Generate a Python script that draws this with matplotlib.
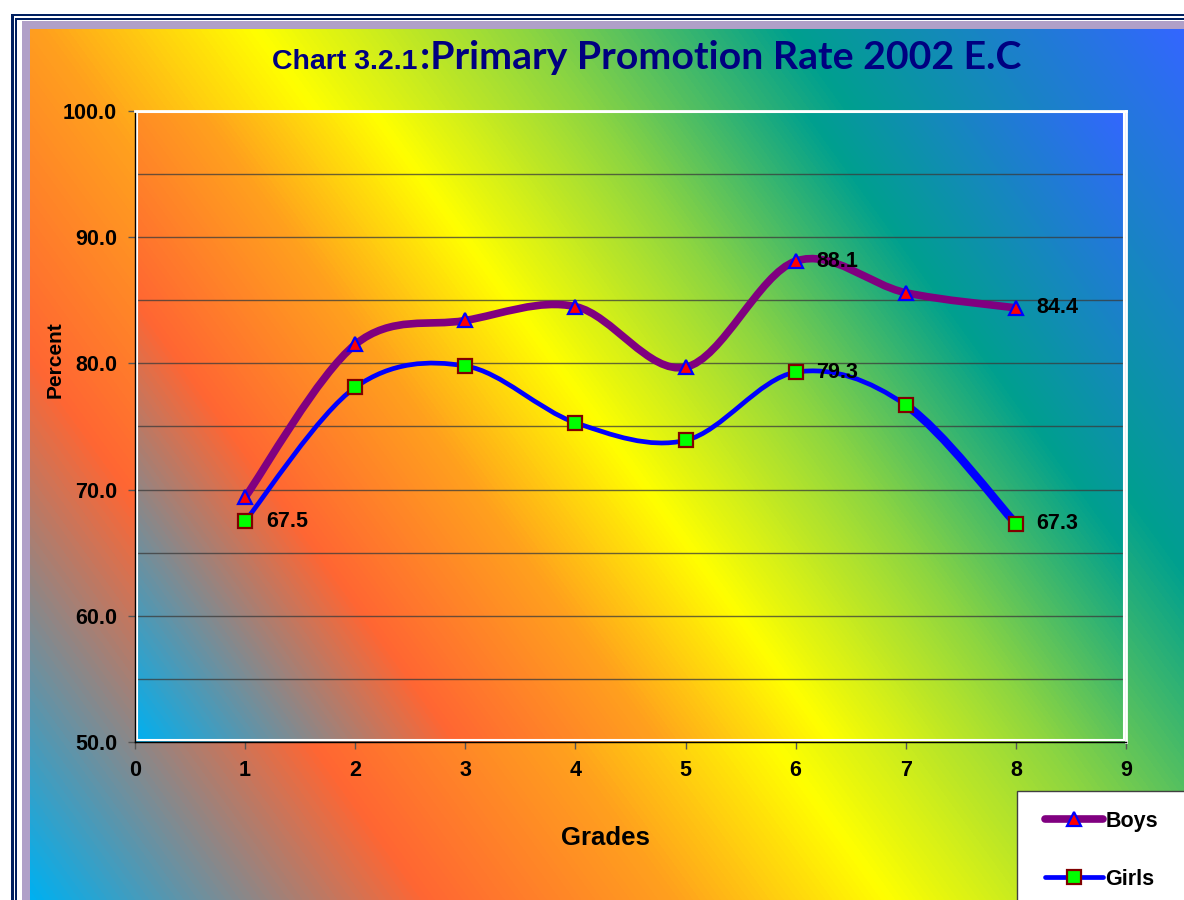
import numpy as np
import matplotlib
matplotlib.use("Agg")
import matplotlib.pyplot as plt
from matplotlib.path import Path
from matplotlib.patches import PathPatch, Rectangle
from matplotlib.colors import LinearSegmentedColormap
from matplotlib.lines import Line2D

# data
grades = [1, 2, 3, 4, 5, 6, 7, 8]
boys = [69.4, 81.5, 83.4, 84.5, 79.7, 88.1, 85.6, 84.4]
girls = [67.5, 78.1, 79.8, 75.3, 73.9, 79.3, 76.7, 67.3]
boys_labelled = [6, 8]        # grades with a data label
girls_labelled = [1, 6, 8]
yticks = [50, 60, 70, 80, 90, 100]
xticks = list(range(10))

W, H = 1184, 900
NAVY = "#000080"
FONT = ["Liberation Sans", "DejaVu Sans"]
plt.rcParams["font.family"] = FONT
FS = 15.5

stops = [(0.0, "#00b0f0"), (0.22, "#ff6633"), (0.36, "#ffa01e"), (0.48, "#ffff00"),
         (0.63, "#8fd640"), (0.78, "#00a08e"), (1.0, "#3366ff")]
cmap = LinearSegmentedColormap.from_list("rainbowfill", stops)


def grad(w, h, ang=36):
    a = np.radians(ang)
    x = np.arange(w)[None, :]
    y = np.arange(h)[:, None]
    t = x * np.cos(a) + (h - 1 - y) * np.sin(a)
    return t / t.max()


def fx(px):
    return px / W


def fy(py):
    return 1 - py / H


def smooth_path(xs, ys, i0=0, i1=None):
    """Catmull-Rom style bezier through the points (Excel 'smoothed line')."""
    p = np.column_stack([xs, ys]).astype(float)
    n = len(p)
    i1 = n - 1 if i1 is None else i1
    verts, codes = [p[i0]], [Path.MOVETO]
    for i in range(i0, i1):
        pm = p[max(i - 1, 0)]
        pn = p[min(i + 2, n - 1)]
        c1 = p[i] + (p[i + 1] - pm) / 6
        c2 = p[i + 1] - (pn - p[i]) / 6
        verts += [c1, c2, p[i + 1]]
        codes += [Path.CURVE4] * 3
    return Path(verts, codes)


fig = plt.figure(figsize=(W / 100, H / 100), dpi=100)
fig.patch.set_facecolor("white")

# frame: navy double line, lavender band
for x0, y0, col in [(11, 14, "#002060"), (14, 16.5, "white"), (15, 18, "#002060"),
                    (17, 19.5, "white"), (22, 21, "#b0a0c8")]:
    fig.patches.append(Rectangle((fx(x0), -0.1), 1.2, fy(y0) + 0.1, transform=fig.transFigure,
                                 facecolor=col, edgecolor="none", zorder=-5))

bg = fig.add_axes([fx(30), 0, 1 - fx(30), fy(29)])
bg.imshow(grad(W - 30, H - 29), cmap=cmap, aspect="auto", interpolation="bilinear")
bg.axis("off")

ax = fig.add_axes([fx(135), fy(742), fx(1126) - fx(135), fy(111) - fy(742)])
ax.imshow(grad(991, 631), cmap=cmap, aspect="auto", interpolation="bilinear",
          extent=(0, 9, 50, 100), zorder=0)
ax.set_xlim(0, 9); ax.set_ylim(50, 100)
ax.set_yticks(yticks); ax.set_yticks(range(55, 100, 10), minor=True)
ax.set_yticklabels([f"{v:.1f}" for v in yticks])
ax.set_xticks(xticks)
ax.grid(True, which="both", axis="y", color="#3a3a3a", alpha=0.75, lw=1)
ax.tick_params(which="major", direction="out", length=5, width=1, color="#555555",
               labelsize=FS)
ax.tick_params(which="minor", length=0)
ax.tick_params(axis="y", pad=8)
ax.tick_params(axis="x", pad=8)
for lab in ax.get_xticklabels() + ax.get_yticklabels():
    lab.set_fontweight("bold")
for s in ["top", "right"]:
    ax.spines[s].set_color("white"); ax.spines[s].set_linewidth(2)
for s in ["left", "bottom"]:
    ax.spines[s].set_color("black"); ax.spines[s].set_linewidth(1)
ax.add_patch(Rectangle((0.002, 0.003), 0.996, 0.995, transform=ax.transAxes, fill=False,
                       edgecolor="white", lw=1.5, zorder=2))

# lines
ax.add_patch(PathPatch(smooth_path(grades, boys), fill=False, edgecolor="#800080", lw=5.5,
                       capstyle="round", joinstyle="round", zorder=3))
ax.add_patch(PathPatch(smooth_path(grades, girls, 0, 6), fill=False, edgecolor="#0000ff",
                       lw=3.4, capstyle="round", joinstyle="round", zorder=3))
ax.add_patch(PathPatch(smooth_path(grades, girls, 6, 7), fill=False, edgecolor="#0000ff",
                       lw=6, capstyle="round", joinstyle="round", zorder=3))
ax.plot(grades, boys, ls="none", marker="^", ms=10, mfc="#ff0000", mec="#0000ff", mew=1.6,
        zorder=4, clip_on=False)
ax.plot(grades, girls, ls="none", marker="s", ms=10, mfc="#00ff00", mec="#800000", mew=1.6,
        zorder=4, clip_on=False)

for g, v in zip(grades, boys):
    if g in boys_labelled:
        ax.annotate(f"{v:.1f}", (g, v), xytext=(15, 0), textcoords="offset points",
                    ha="left", va="center", fontsize=FS, fontweight="bold", zorder=5)
for g, v in zip(grades, girls):
    if g in girls_labelled:
        ax.annotate(f"{v:.1f}", (g, v), xytext=(15, 0), textcoords="offset points",
                    ha="left", va="center", fontsize=FS, fontweight="bold", zorder=5)

# titles and axis labels
fig.text(fx(417), fy(69), "Chart 3.2.1", ha="right", va="baseline", fontsize=20.5,
         fontweight="bold", color=NAVY)
fig.text(fx(420), fy(69), ":Primary Promotion Rate 2002 E.C", ha="left", va="baseline",
         fontsize=28.3, fontweight="bold", color=NAVY, family=["Lato", "DejaVu Sans"])
fig.text(fx(55), fy(360), "Percent", rotation=90, ha="center", va="center", fontsize=15,
         fontweight="bold")
fig.text(fx(605), fy(838), "Grades", ha="center", va="center", fontsize=18.5, fontweight="bold")

# legend box (runs off the page edge like the original)
fig.patches.append(Rectangle((fx(1017), -0.1), 0.5, fy(791) + 0.1, transform=fig.transFigure,
                             facecolor="white", edgecolor="#404040", lw=1, zorder=5))
handles = [Line2D([], [], color="#800080", lw=5.5, marker="^", ms=10, mfc="#ff0000",
                  mec="#0000ff", mew=1.6, solid_capstyle="round"),
           Line2D([], [], color="#0000ff", lw=3.4, marker="s", ms=10, mfc="#00ff00",
                  mec="#800000", mew=1.6, solid_capstyle="round")]
leg = fig.legend(handles, ["Boys", "Girls"], loc="upper left",
                 bbox_to_anchor=(fx(1045), fy(811)), frameon=False, borderaxespad=0,
                 borderpad=0, handlelength=2.7, handletextpad=0.1, labelspacing=1.72,
                 prop={"size": FS, "weight": "bold"})
leg.set_zorder(6)

fig.savefig("out.png", dpi=100)
